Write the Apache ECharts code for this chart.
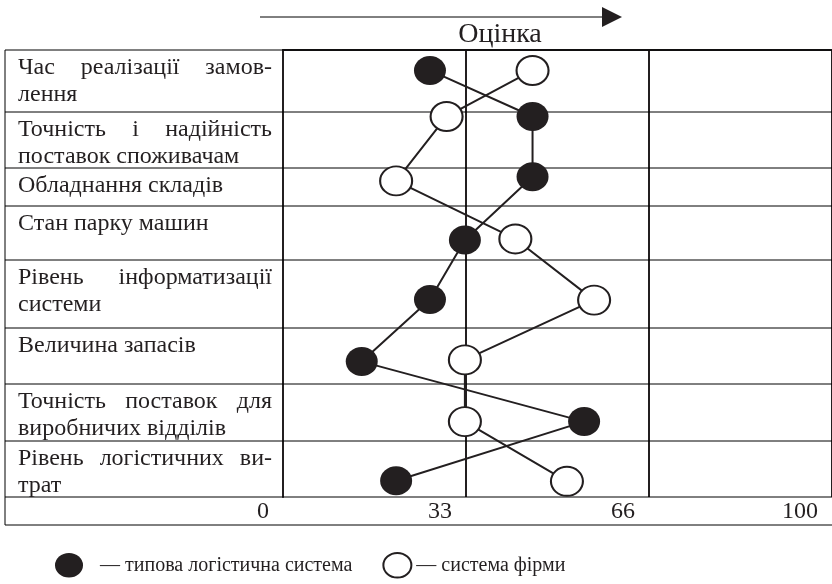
<!DOCTYPE html>
<html>
<head>
<meta charset="utf-8">
<script src="https://cdn.jsdelivr.net/npm/echarts@6/dist/echarts.min.js"></script>
<style>
html, body { margin: 0; padding: 0; background: #fff; }
#chart { width: 832px; height: 584px; }
</style>
</head>
<body>
<div id="chart"></div>
<script>
// критерії (рядки таблиці), з переносами як в оригіналі
var categories = [
    ['Час реалізації замов-', 'лення'],
    ['Точність і надійність', 'поставок споживачам'],
    ['Обладнання складів'],
    ['Стан парку машин'],
    ['Рівень інформатизації', 'системи'],
    ['Величина запасів'],
    ['Точність поставок для', 'виробничих відділів'],
    ['Рівень логістичних ви-', 'трат']
];
// оцінка по шкалі 0..100 (стовпці 0-33-66-100)
var typicalScore = [26.5, 45, 45, 32.8, 26.5, 14.2, 54.3, 20.4];
var firmScore = [45, 29.5, 20.4, 41.9, 56.1, 32.8, 32.8, 51.2];
// де стоїть точка по висоті рядка (частка від верху рядка)
var typicalPos = [0.33, 0.08, 0.23, 0.63, 0.58, 0.6, 0.66, 0.71];
var firmPos = [0.33, 0.08, 0.34, 0.61, 0.59, 0.57, 0.66, 0.72];
var xTickLabels = ['0', '33', '66', '100'];
var seriesNames = ['типова логістична система', 'система фірми'];
var axisTitle = 'Оцінка';

// розмітка таблиці
var ink = '#231f20';
var fontFamily = '"Liberation Serif", "Times New Roman", serif';
var fontSize = 24;
var legendFontSize = 20;
var lineHeight = 27;
var rowHeights = [62, 56, 38, 54, 68, 56, 57, 56];
var tableLeft = 5, gridLeft = 283, gridTop = 50, gridWidth = 552, footH = 28;
var textLeft = 18, textRight = 272;
var ellipse = 'path://M0,14A16,14 0 1,1 32,14A16,14 0 1,1 0,14Z';

var rowTops = [];
var acc = 0;
rowHeights.forEach(function (h) { rowTops.push(acc); acc += h; });
var tableH = acc;

function toPoints(scores, pos) {
    return scores.map(function (v, i) {
        return [v, rowTops[i] + pos[i] * rowHeights[i]];
    });
}

var chart = echarts.init(document.getElementById('chart'));

var lineStyle = { color: ink, width: 2 };

chart.setOption({
    backgroundColor: '#fff',
    animation: false,
    grid: { left: gridLeft, top: gridTop, width: gridWidth, height: tableH },
    xAxis: {
        type: 'value', min: 0, max: 99, interval: 33,
        axisLine: { show: true, lineStyle: lineStyle },
        axisTick: { show: true, length: footH, lineStyle: lineStyle },
        splitLine: { show: true, lineStyle: lineStyle },
        axisLabel: {
            formatter: function (v, i) { return xTickLabels[i]; },
            align: 'right', padding: [0, 14, 0, 0], margin: 3,
            color: ink, fontFamily: fontFamily, fontSize: fontSize
        }
    },
    yAxis: {
        type: 'value', min: 0, max: tableH, inverse: true,
        axisLine: { show: true, lineStyle: lineStyle },
        axisTick: { show: false }, axisLabel: { show: false }, splitLine: { show: false }
    },
    legend: {
        left: 55, top: 552, padding: 0, itemWidth: 28, itemHeight: 27, itemGap: 30,
        selectedMode: false,
        formatter: function (name) { return '— ' + name; },
        textStyle: { color: ink, fontFamily: fontFamily, fontSize: legendFontSize },
        data: [
            {
                name: seriesNames[0], icon: ellipse, itemStyle: { color: ink, borderWidth: 0 },
                textStyle: { padding: [0, 0, 0, 12] }
            },
            {
                name: seriesNames[1], icon: ellipse, itemStyle: { color: '#fff', borderColor: ink, borderWidth: 2 },
                textStyle: { padding: [0, 0, 0, 0] }
            }
        ]
    },
    series: [
        {
            name: seriesNames[0], type: 'line', z: 5,
            data: toPoints(typicalScore, typicalPos),
            symbol: ellipse, symbolSize: [32, 29],
            itemStyle: { color: ink },
            lineStyle: lineStyle
        },
        {
            name: seriesNames[1], type: 'line', z: 6,
            data: toPoints(firmScore, firmPos),
            symbol: ellipse, symbolSize: [32, 29],
            itemStyle: { color: '#fff', borderColor: ink, borderWidth: 2 },
            lineStyle: lineStyle
        }
    ]
});

// рамка таблиці та підписи рядків
var ctx = document.createElement('canvas').getContext('2d');
ctx.font = fontSize + 'px ' + fontFamily;

function textEl(str, x, y, align, size) {
    return {
        type: 'text', z: 3,
        style: {
            text: str, x: x, y: y, fill: ink,
            font: (size || fontSize) + 'px ' + fontFamily,
            align: align || 'left', verticalAlign: 'middle',
            textAlign: align || 'left', textVerticalAlign: 'middle'
        }
    };
}

var els = [];
var rightEdge = 840;
var edges = rowTops.concat([tableH]);
edges.forEach(function (e) {
    var y = chart.convertToPixel({ yAxisIndex: 0 }, e);
    els.push({ type: 'line', z: 1, shape: { x1: tableLeft, y1: y, x2: rightEdge, y2: y }, style: lineStyle });
});
var yBottom = chart.convertToPixel({ yAxisIndex: 0 }, tableH) + footH;
els.push({ type: 'line', z: 1, shape: { x1: tableLeft, y1: yBottom, x2: rightEdge, y2: yBottom }, style: lineStyle });
els.push({ type: 'line', z: 1, shape: { x1: tableLeft, y1: gridTop, x2: tableLeft, y2: yBottom }, style: lineStyle });

categories.forEach(function (lines, r) {
    var top = chart.convertToPixel({ yAxisIndex: 0 }, rowTops[r]);
    lines.forEach(function (ln, k) {
        var y = top + 18 + k * lineHeight;
        var words = ln.split(' ');
        var justify = k < lines.length - 1 && words.length > 1;
        if (!justify) {
            els.push(textEl(ln, textLeft, y));
            return;
        }
        var widths = words.map(function (w) { return ctx.measureText(w).width; });
        var sum = widths.reduce(function (a, b) { return a + b; }, 0);
        var gap = (textRight - textLeft - sum) / (words.length - 1);
        var x = textLeft;
        words.forEach(function (w, j) {
            els.push(textEl(w, x, y));
            x += widths[j] + gap;
        });
    });
});

// стрілка "Оцінка"
els.push({ type: 'line', z: 1, shape: { x1: 260, y1: 17, x2: 606, y2: 17 }, style: lineStyle });
els.push({ type: 'polygon', z: 1, shape: { points: [[602, 7], [622, 17], [602, 27]] }, style: { fill: ink } });
els.push(textEl(axisTitle, 500, 35, 'center', 28));

chart.setOption({ graphic: { elements: els } });

window.addEventListener('resize', function () { chart.resize(); });
</script>
</body>
</html>
